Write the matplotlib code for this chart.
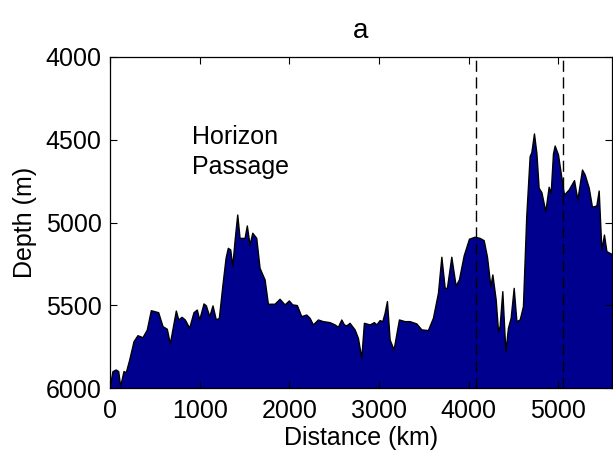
import matplotlib
matplotlib.use("Agg")
from matplotlib import pyplot as plt

plt.rcParams["font.family"] = ["Liberation Sans", "DejaVu Sans"]

# bathymetric section along the track
distance_km = [
    0, 33, 70, 97, 119, 156, 182, 220, 268, 312, 368, 416, 461, 543, 591, 639,
    673, 740, 767, 804, 840, 889, 937, 974, 1001, 1049, 1075, 1113, 1149, 1186,
    1220, 1258, 1295, 1320, 1347, 1369, 1398, 1425, 1451, 1507, 1532, 1562,
    1593, 1637, 1674, 1711, 1730, 1767, 1841, 1897, 1953, 2001, 2039, 2090,
    2139, 2195, 2232, 2269, 2325, 2380, 2455, 2511, 2548, 2586, 2615, 2642,
    2678, 2734, 2771, 2809, 2838, 2902, 2950, 2976, 3013, 3043, 3069, 3095,
    3125, 3169, 3229, 3292, 3348, 3423, 3479, 3552, 3608, 3664, 3702, 3739,
    3764, 3813, 3861, 3898, 3951, 4010, 4073, 4129, 4174, 4211, 4249, 4271,
    4308, 4334, 4352, 4382, 4416, 4445, 4475, 4509, 4539, 4576, 4612, 4649,
    4687, 4706, 4735, 4762, 4787, 4818, 4862, 4899, 4922, 4947, 4966, 5003,
    5033, 5070, 5122, 5182, 5219, 5271, 5301, 5346, 5382, 5431, 5457, 5487,
    5516, 5543, 5591, 5600,
]
depth_m = [
    6000, 5901, 5891, 5901, 5992, 5901, 5907, 5831, 5720, 5684, 5696, 5650,
    5533, 5545, 5629, 5645, 5734, 5535, 5589, 5573, 5589, 5639, 5545, 5529,
    5589, 5492, 5504, 5569, 5504, 5589, 5579, 5388, 5216, 5156, 5166, 5267,
    5096, 4955, 5096, 5096, 5021, 5136, 5065, 5096, 5277, 5323, 5347, 5494,
    5494, 5464, 5498, 5474, 5498, 5502, 5569, 5559, 5579, 5619, 5589, 5599,
    5605, 5619, 5633, 5589, 5619, 5625, 5609, 5649, 5700, 5820, 5609, 5619,
    5605, 5619, 5593, 5599, 5549, 5478, 5710, 5770, 5589, 5599, 5599, 5613,
    5649, 5653, 5579, 5428, 5210, 5398, 5398, 5210, 5384, 5347, 5202, 5101,
    5089, 5096, 5110, 5210, 5388, 5317, 5468, 5660, 5629, 5418, 5781, 5639,
    5579, 5398, 5599, 5589, 5509, 4965, 4602, 4578, 4465, 4582, 4793, 4820,
    4935, 4787, 4823, 4586, 4538, 4592, 4703, 4834, 4804, 4747, 4864, 4683,
    4713, 4793, 4908, 4900, 4810, 5166, 5076, 5176, 5190, 5195,
]
section_marks_km = [4085, 5050]

x_ticks = [0, 1000, 2000, 3000, 4000, 5000]
y_ticks = [4000, 4500, 5000, 5500, 6000]

fig = plt.figure(figsize=(6.13, 4.66), dpi=100)
ax = fig.add_axes([110 / 613, 78 / 466, 502 / 613, 331 / 466])

ax.fill_between(distance_km, depth_m, 6000, facecolor="#00008f",
                edgecolor="none", zorder=1)
ax.plot(distance_km, depth_m, color="black", linewidth=1.0, zorder=2)
for xm in section_marks_km:
    ax.axvline(xm, color="black", linewidth=1.0, linestyle=(0, (8, 4)),
               zorder=3)

ax.text(910, 4410, "Horizon\nPassage", fontsize=18, va="top", ha="left",
        linespacing=1.3)

ax.set_xlim(0, 5600)
ax.set_ylim(6000, 4000)
ax.set_xticks(x_ticks)
ax.set_yticks(y_ticks)
ax.tick_params(direction="in", length=5, width=0.8, labelsize=18,
               top=True, right=True)
ax.tick_params(axis="x", pad=8)
ax.tick_params(axis="y", pad=6)
ax.set_xlabel("Distance (km)", fontsize=18, labelpad=2)
ax.set_ylabel("Depth (m)", fontsize=18, labelpad=6)
ax.set_title("a", fontsize=20, pad=14)
for spine in ax.spines.values():
    spine.set_linewidth(0.9)
    spine.set_zorder(4)
ax.set_axisbelow(False)

fig.savefig("out.png", dpi=100)
